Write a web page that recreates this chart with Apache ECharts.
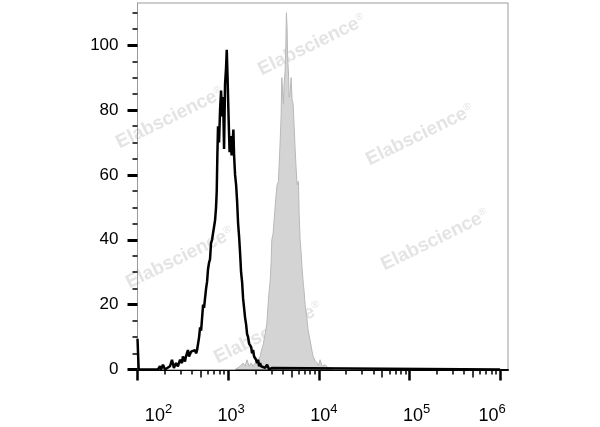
<!DOCTYPE html>
<html><head><meta charset="utf-8">
<script src="https://cdn.jsdelivr.net/npm/echarts@6/dist/echarts.min.js"></script>
<style>html,body{margin:0;padding:0;background:#fff}#c{width:600px;height:427px}</style>
</head><body><div id="c"></div>
<script>
// Black (unfilled) histogram: fluorescence channel value / % of max
const blackX = [100,103,137,168,177,182,191,201,228,240,252,266,279,294,309,317,334,342,360,370,390,410,431,443,454,466,478,490,503,516,529,542,556,571,585,600,616,631,647,664,681,699,717,735,748,760,773,793,814,835,856,879,901,924,948,965,985,1010,1037,1063,1091,1119,1142,1162,1192,1223,1254,1287,1320,1353,1388,1424,1460,1498,1536,1576,1616,1658,1701,1745,1790,1836,1883,1932,1981,2032,2085,2138,2193,2250,2308,2428,2555,2688,2828,3052,3211,1000000];
const blackY = [9.5,0,0,0,1,0,1.5,0,1,3,0.5,2,1,3,2,4,2.5,4,6,4,5.5,5,6,5,6,8,10,13,12,16,20,19,22,25,27,31,33,34,39,40,42,44,46,50,55,66,75,70,80,86,78,84,68,88,93,98.6,90,78,67,72,66,70,74,66,60,57,52,45,41,36,30,27,22,19,16,14,11,10,8,8.5,7,5,6,4,4.5,3,2,3,1,2,1,1.5,0.5,1.5,0,0.5,0,0];
// Grey (filled) histogram
const grayX = [100,1192,1353,1460,1536,1616,1701,1790,1883,1981,2069,2138,2250,2337,2447,2555,2668,2757,2828,2901,2976,3029,3131,3211,3294,3379,3466,3582,3647,3740,3836,3905,3985,4067,4140,4247,4323,4390,4468,4525,4618,4701,4823,4947,5074,5205,5339,5477,5617,5762,5956,6062,6218,6378,6542,6762,6883,7061,7372,7620,8017,8371,8652,9103,9578,9900,10336,10875,11737,12666,13327,14383,1000000];
const grayY = [0,0,1,2,1,3,1,2,1,2,1.7,3,4,6,8,11,14,20,24,27,33,40,42,46,50,54,57,58,63,70,78,90,86,82,88,92,100,110,105,96,92,84,85,90,83,82,75,68,62,57,58,48,40,36,31,26,24,20,16,12,9,6,4,2.7,2,1.2,3,1,1.5,0.5,0.5,0,0];

// Axis ticks / labels
const xMajorTicks = [100,1000,10000,100000,1000000];
const xMidTicks = [500,5000,50000,500000];
const xMinorTicks = [200,300,400,600,700,800,900,2000,3000,4000,6000,7000,8000,9000,20000,30000,40000,60000,70000,80000,90000,200000,300000,400000,600000,700000,800000,900000];
const yLabels = [0,20,40,60,80,100];
const yMinorTicks = [5,10,15,25,30,35,45,50,55,65,70,75,85,90,95,105,110];
const watermark = 'Elabscience';

const FONT = '"Liberation Sans", Arial, Helvetica, sans-serif';
const chart = echarts.init(document.getElementById('c'), null, {renderer: 'canvas'});

const baseRich = (padLeft) => ({fontSize: 18, fontFamily: FONT, color: '#000', padding: [0,0,0,padLeft], verticalAlign: 'bottom', lineHeight: 23});
const supRich = (padRight) => ({fontSize: 13, fontFamily: FONT, color: '#000', padding: [0,padRight,0,0], verticalAlign: 'top', lineHeight: 13});

const xCommon = {type: 'log', logBase: 10, min: 100, max: 1220000, position: 'bottom', splitLine: {show: false}, minorTick: {show: false}};

const wmPositions = [[312,45],[170,118],[420,135],[180,258],[435,240],[268,333]];

const option = {
  animation: false,
  backgroundColor: '#fff',
  grid: {left: 137.5, right: 92, top: 3, bottom: 57.5, show: true, borderColor: '#9a9a9a', borderWidth: 1, backgroundColor: 'transparent'},
  xAxis: [
    Object.assign({}, xCommon, {
      axisLine: {show: true, lineStyle: {color: '#000', width: 2}},
      axisTick: {show: true, customValues: xMajorTicks, length: 11, lineStyle: {color: '#000', width: 2.5}},
      axisLabel: {
        show: true, customValues: xMajorTicks, margin: 33,
        formatter: (v) => { const e = Math.round(Math.log10(v)); return '{b' + e + '|10}{' + (e === 6 ? 's6' : 's') + '|' + e + '}'; },
        rich: {b2: baseRich(42), b3: baseRich(6), b4: baseRich(10), b5: baseRich(14), b6: baseRich(0), s: supRich(0), s6: supRich(16)}
      }
    }),
    Object.assign({}, xCommon, {
      axisLine: {show: false},
      axisTick: {show: true, customValues: xMidTicks, length: 8, lineStyle: {color: '#000', width: 1.5}},
      axisLabel: {show: false}
    }),
    Object.assign({}, xCommon, {
      axisLine: {show: false},
      axisTick: {show: true, customValues: xMinorTicks, length: 5, lineStyle: {color: '#000', width: 1.5}},
      axisLabel: {show: false}
    })
  ],
  yAxis: [
    {
      type: 'value', min: 0, max: 113, position: 'left',
      splitLine: {show: false},
      axisLine: {show: true, lineStyle: {color: '#9a9a9a', width: 1}},
      axisTick: {show: true, customValues: yLabels, length: 10, lineStyle: {color: '#000', width: 3}},
      axisLabel: {show: true, customValues: yLabels, margin: 19, fontSize: 17, fontFamily: FONT, color: '#000'}
    },
    {
      type: 'value', min: 0, max: 113, position: 'left',
      splitLine: {show: false},
      axisLine: {show: false},
      axisTick: {show: true, customValues: yMinorTicks, length: 5, lineStyle: {color: '#000', width: 1.5}},
      axisLabel: {show: false}
    }
  ],
  graphic: wmPositions.map(p => ({
    type: 'text', x: p[0], y: p[1], rotation: 26 * Math.PI / 180, z: 0, silent: true,
    style: {
      text: '{a|' + watermark + '}{r|®}',
      align: 'center', verticalAlign: 'middle',
      rich: {
        a: {fontSize: 19, fontWeight: 'bold', fontFamily: FONT, fill: '#e4e4e4'},
        r: {fontSize: 10, fontFamily: FONT, fill: '#e4e4e4', verticalAlign: 'top'}
      }
    }
  })),
  series: [
    {
      type: 'line', xAxisIndex: 0, yAxisIndex: 0, z: 3, symbol: 'none',
      data: grayX.map((x, i) => [x, grayY[i]]),
      lineStyle: {color: '#b8b8b8', width: 1},
      areaStyle: {color: '#d4d4d4', opacity: 1, origin: 'start'}
    },
    {
      type: 'line', xAxisIndex: 0, yAxisIndex: 0, z: 4, symbol: 'none',
      data: blackX.map((x, i) => [x, blackY[i]]),
      lineStyle: {color: '#000', width: 2.5}
    }
  ]
};
chart.setOption(option);
</script>
</body></html>
